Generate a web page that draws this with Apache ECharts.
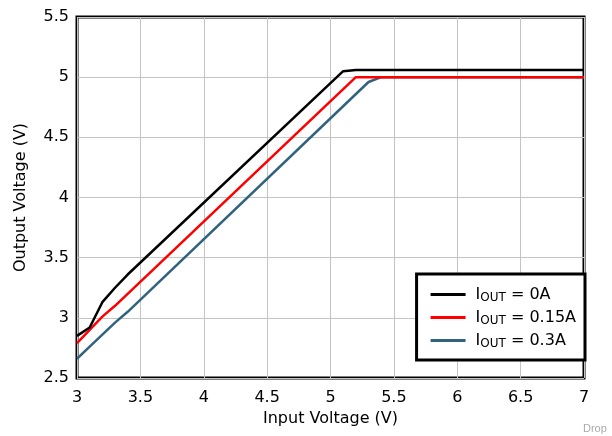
<!DOCTYPE html>
<html><head><meta charset="utf-8">
<script src="https://cdn.jsdelivr.net/npm/echarts@6/dist/echarts.min.js"></script>
<style>html,body{margin:0;padding:0;background:#fff}#c{width:612px;height:436px}</style>
</head><body><div id="c"></div>
<script>
const seriesNames = ['0A', '0.15A', '0.3A'];
const iout0 = [[3.0,2.85],[3.1,2.92],[3.2,3.13],[3.3,3.25],[3.4,3.36],[5.1,5.05],[5.2,5.06],[7.0,5.06]];
const iout015 = [[3.0,2.79],[3.1,2.90],[3.2,3.01],[3.3,3.10],[5.2,5.0],[7.0,5.0]];
const iout03 = [[3.0,2.66],[3.1,2.76],[3.2,2.86],[3.3,2.96],[3.4,3.05],[5.3,4.96],[5.4,5.0],[7.0,5.0]];
const xTicks = ['3','3.5','4','4.5','5','5.5','6','6.5','7'];
const yTicks = ['2.5','3','3.5','4','4.5','5','5.5'];
const colors = ['#000000','#ff0000','#31637e'];
const font = 'DejaVu Sans, sans-serif';
const chart = echarts.init(document.getElementById('c'));
const datas = [iout0, iout015, iout03];
chart.setOption({
  animation:false,
  grid:{left:77,right:28,top:17,bottom:58,show:true,borderColor:'#000',borderWidth:3,backgroundColor:'transparent'},
  xAxis:{type:'value',min:3,max:7,interval:0.5,name:'Input Voltage (V)',nameLocation:'middle',nameGap:29,
    nameTextStyle:{fontSize:16,color:'#000',fontFamily:font},
    axisLine:{show:false},axisTick:{show:false},
    axisLabel:{fontSize:16,color:'#000',fontFamily:font,margin:12,formatter:v=>xTicks[Math.round((v-3)/0.5)]},
    splitLine:{lineStyle:{color:'#c4c4c4',width:1}}},
  yAxis:{type:'value',min:2.5,max:5.5,interval:0.5,name:'Output Voltage (V)',nameLocation:'middle',nameGap:48,
    nameTextStyle:{fontSize:16,color:'#000',fontFamily:font},
    axisLine:{show:false},axisTick:{show:false},
    axisLabel:{fontSize:16,color:'#000',fontFamily:font,margin:8,formatter:v=>yTicks[Math.round((v-2.5)/0.5)]},
    splitLine:{lineStyle:{color:'#c4c4c4',width:1}}},
  legend:{orient:'vertical',right:27,top:274,backgroundColor:'#fff',borderColor:'#000',borderWidth:3,borderRadius:0,
    padding:[10,9,9,14],itemGap:2,itemWidth:35,itemHeight:3,icon:'rect',
    data:seriesNames.map(n=>'I_OUT = '+n),
    formatter:name=>'{a|I}{s|OUT}{a|'+name.slice(5)+'}',
    textStyle:{fontFamily:font,color:'#000',padding:[0,0,0,5],rich:{
      a:{fontSize:16,fontFamily:font,color:'#000',height:21,lineHeight:21},
      s:{fontSize:12,fontFamily:font,color:'#000',padding:[7,0,0,0],lineHeight:21}}}},
  series:datas.map((d,i)=>({type:'line',name:'I_OUT = '+seriesNames[i],data:d,showSymbol:false,
    lineStyle:{color:colors[i],width:2.5},itemStyle:{color:colors[i]},z:3-i})),
  graphic:[{type:'text',left:583,top:423,style:{text:'Drop',fontSize:11,fill:'#aaaaaa',fontFamily:'Liberation Sans, Arial, sans-serif'}}]
});
</script></body></html>
